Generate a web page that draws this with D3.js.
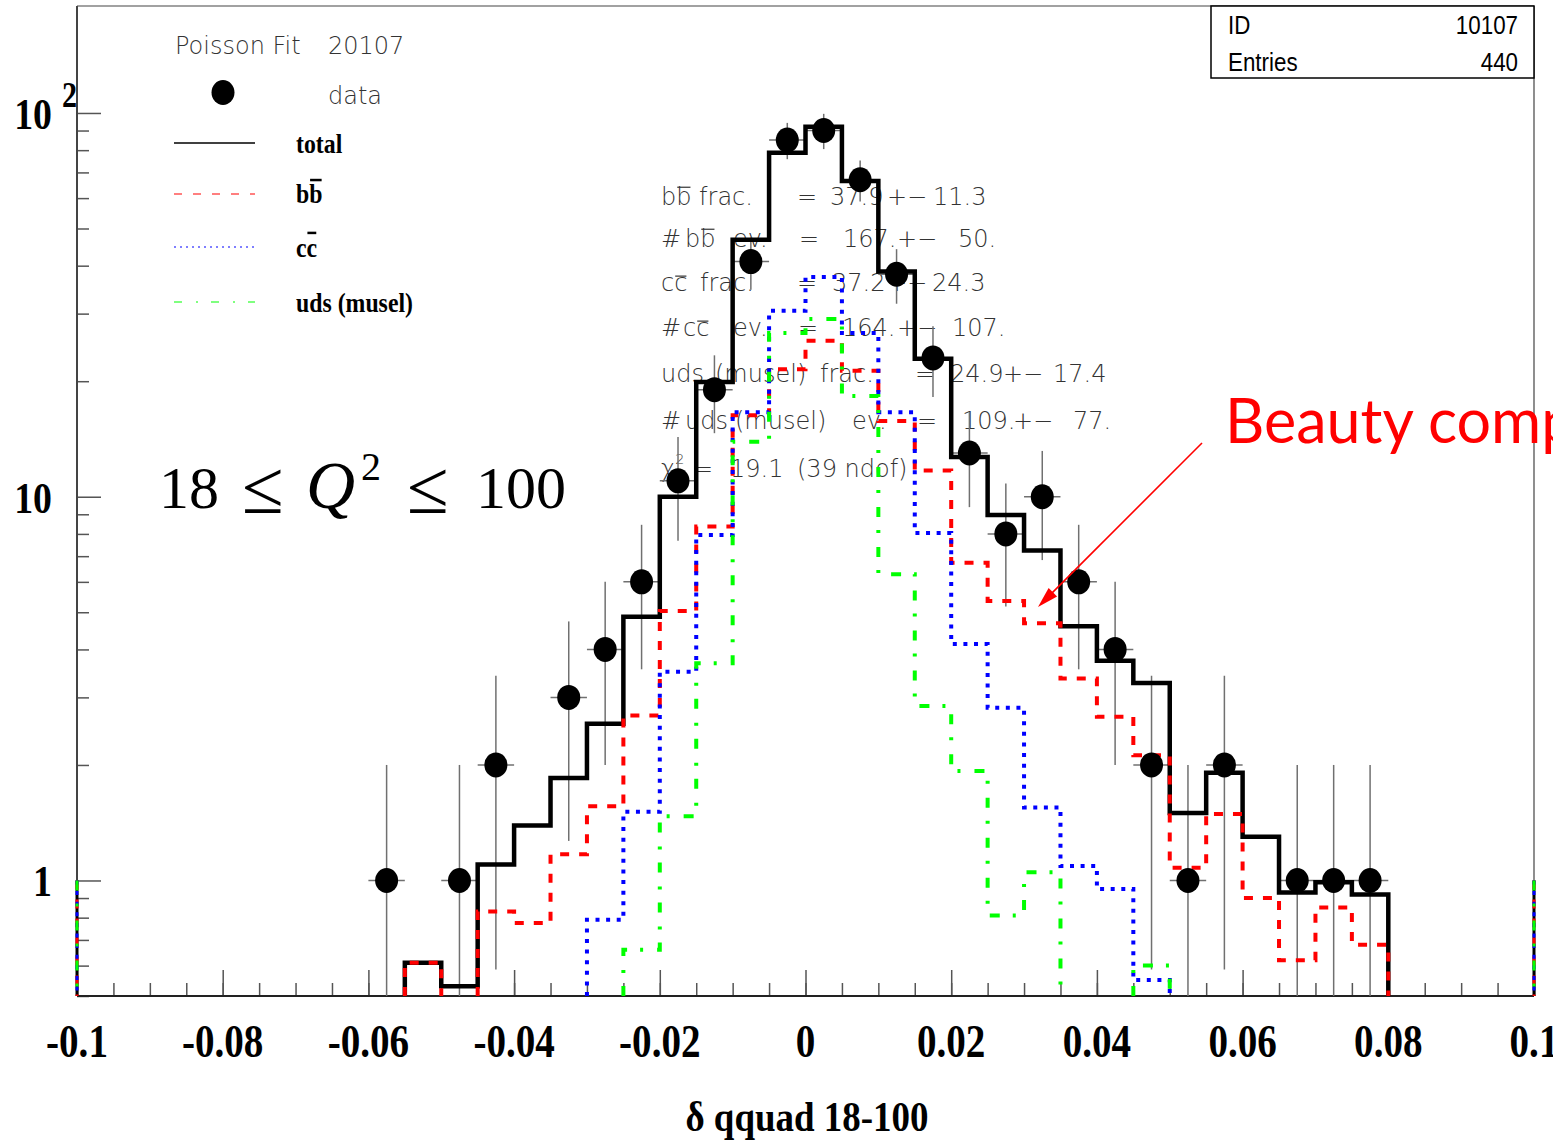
<!DOCTYPE html>
<html>
<head>
<meta charset="utf-8">
<script src="https://cdn.jsdelivr.net/npm/d3@7"></script>
<style>
  body { margin: 0; background: #fff; }
  svg { display: block; }
  text { white-space: pre; }
</style>
</head>
<body>
<svg id="chart" width="1553" height="1143"></svg>
<script>
// ---------------- data ----------------
// 40 bins of width 0.005 from -0.1 to 0.1 (index 0 = [-0.1, -0.095])
const binStart = -0.1;
const binWidth = 0.005;
const nBins = 40;

// observed entries per bin
const dataCounts = [0,0,0,0,0,0,0,0,1,0, 1,2,0,3,4,6,11,19,41,85, 90,67,38,23,13,8,10,6,4,2, 1,2,0,1,1,1,0,0,0,0];

// fitted contributions per bin (0 = below the axis minimum)
const totalFit = [0,0,0,0,0,0,0,0,0,0.61, 0.53,1.10,1.39,1.85,2.56,4.87,10.0,19.9,46.7,78.8, 92.1,66.5,38.6,22.9,12.7,8.96,7.24,4.60,3.74,3.27, 1.50,1.91,1.30,0.93,0.99,0.92,0,0,0,0];
const bbFit    = [0,0,0,0,0,0,0,0,0,0.61, 0,0.83,0.775,1.17,1.56,2.69,5.04,8.36,16.3,21.5, 25.5,21.3,15.75,11.7,6.73,5.35,4.68,3.36,2.67,2.12, 1.08,1.49,0.90,0.62,0.85,0.68,0,0,0,0];
const ccFit    = [0,0,0,0,0,0,0,0,0,0, 0,0,0,0,0.79,1.51,3.5,7.95,16.6,30.5, 37.4,26.7,16.6,8.04,4.13,2.82,1.55,1.09,0.95,0.55, 0,0,0,0,0,0,0,0,0,0];
const udsFit   = [0,0,0,0,0,0,0,0,0,0, 0,0,0,0,0,0.66,1.47,3.68,13.9,26.7, 29.05,18.3,6.28,2.85,1.93,0.81,1.05,0,0,0.60, 0,0,0,0,0,0,0,0,0,0];
// level of the histogram end markers drawn at both range limits
const edgeLevel = 1;

const xTickValues = [-0.1,-0.08,-0.06,-0.04,-0.02,0,0.02,0.04,0.06,0.08,0.1];
const xTickLabels = ["-0.1","-0.08","-0.06","-0.04","-0.02","0","0.02","0.04","0.06","0.08","0.1"];
const yTickValues = [1, 10, 100];
const yTickLabels = ["1", "10", "10"];
const yTickExponents = ["", "", "2"];
const yMinorValues = [0.5,0.6,0.7,0.8,0.9,2,3,4,5,6,7,8,9,20,30,40,50,60,70,80,90];

const statsLabels = ["ID", "Entries"];
const statsValues = ["10107", "440"];

// fit summary, text segments per line; [x] marks an overbar, ^x a superscript
const fitLines = [
  { y: 205, segs: [[661,"b[b] frac."],[797,"="],[830,"37.9"],[887,"+\u2212"],[933,"11.3"]] },
  { y: 247, segs: [[661,"#"],[685,"b[b]"],[733,"ev."],[799,"="],[843,"167."],[897,"+\u2212"],[958,"50."]] },
  { y: 291, segs: [[661,"c[c]"],[700,"frac."],[797,"="],[832,"37.2"],[887,"+\u2212"],[932,"24.3"]] },
  { y: 336, segs: [[661,"#"],[683,"c[c]"],[733,"ev."],[798,"="],[842,"164."],[897,"+\u2212"],[952,"107."]] },
  { y: 382, segs: [[661,"uds"],[715,"(musel)"],[820,"frac."],[915,"="],[950,"24.9"],[1003,"+\u2212"],[1053,"17.4"]] },
  { y: 429, segs: [[661,"#"],[685,"uds"],[735,"(musel)"],[852,"ev."],[917,"="],[962,"109."],[1013,"+\u2212"],[1073,"77."]] },
  { y: 477, segs: [[661,"\u03C7^2"],[693,"="],[730,"19.1"],[797,"(39 ndof)"]] }
];

// ---------------- layout ----------------
const plot = { left: 77, right: 1534, top: 6, bottom: 996 };
const yMin = 0.5, yMax = 190;

const svg = d3.select("#chart");
svg.append("rect").attr("width", 1553).attr("height", 1143).attr("fill", "#fff");

const x = d3.scaleLinear().domain([-0.1, 0.1]).range([plot.left, plot.right]);
const y = d3.scaleLog().domain([yMin, yMax]).range([plot.bottom, plot.top]);
const yc = v => y(Math.max(v, yMin));
const lo = i => binStart + i * binWidth;

const thinFont = "'DejaVu Sans ExtraLight', 'DejaVu Sans', sans-serif";
const serifFont = "'Liberation Serif', 'Times New Roman', serif";

// text with optional overbars ([..]) and superscripts (^c)
function richText(parent, xPos, yPos, markup, o) {
  const g = parent.append("g")
    .attr("transform", `translate(${xPos},${yPos}) scale(${o.sx || 1},1)`);
  const t = g.append("text")
    .attr("x", 0).attr("y", 0)
    .style("font-family", o.family)
    .style("font-size", o.size + "px")
    .style("font-weight", o.weight || "normal")
    .attr("fill", o.fill || "#000")
    .attr("text-anchor", o.anchor || "start");
  const parts = [];
  let i = 0;
  while (i < markup.length) {
    const ch = markup[i];
    if (ch === "[") {
      const j = markup.indexOf("]", i);
      parts.push({ t: markup.slice(i + 1, j), bar: true });
      i = j + 1;
    } else if (ch === "^") {
      parts.push({ t: markup[i + 1], sup: true });
      i += 2;
    } else {
      let j = i;
      while (j < markup.length && markup[j] !== "[" && markup[j] !== "^") j++;
      parts.push({ t: markup.slice(i, j) });
      i = j;
    }
  }
  let idx = 0;
  const bars = [];
  let raised = false;
  parts.forEach(p => {
    const ts = t.append("tspan").text(p.t);
    if (p.sup) {
      ts.attr("dy", -o.size * 0.55).style("font-size", (o.size * 0.6) + "px");
      raised = true;
    } else if (raised) {
      ts.attr("dy", o.size * 0.55);
      raised = false;
    }
    if (p.bar) bars.push({ start: idx, len: p.t.length, ch: p.t[0] });
    idx += p.t.length;
  });
  const node = t.node();
  bars.forEach(b => {
    const x0 = node.getStartPositionOfChar(b.start).x;
    const x1 = node.getEndPositionOfChar(b.start + b.len - 1).x;
    const h = (b.ch === "b" ? o.barHighB : o.barHighC) * o.size;
    g.append("line")
      .attr("x1", x0 + 1).attr("x2", x1 - 1)
      .attr("y1", -h).attr("y2", -h)
      .attr("stroke", o.fill || "#000")
      .attr("stroke-width", o.barWidth || 1.5);
  });
  return g;
}

// ---------------- fit summary text ----------------
const fitG = svg.append("g");
fitLines.forEach(line => {
  line.segs.forEach(([sx, s]) => {
    richText(fitG, sx, line.y, s, {
      family: thinFont, size: 24, fill: "#333", weight: 200,
      barHighB: 0.74, barHighC: 0.62, barWidth: 1.2
    });
  });
});

// ---------------- Q^2 range label ----------------
const qG = svg.append("g").style("font-family", serifFont).attr("fill", "#000");
qG.append("text").attr("x", 159).attr("y", 508).style("font-size", "60px").text("18");
qG.append("text").attr("x", 242).attr("y", 513).style("font-size", "76px").text("\u2264");
qG.append("text").attr("x", 306).attr("y", 508).style("font-size", "68px").style("font-style", "italic").text("Q");
qG.append("text").attr("x", 361).attr("y", 480).style("font-size", "40px").text("2");
qG.append("text").attr("x", 407).attr("y", 513).style("font-size", "76px").text("\u2264");
qG.append("text").attr("x", 476).attr("y", 508).style("font-size", "60px").text("100");

// ---------------- axes ----------------
const axisColor = "#444";
const xMinor = d3.range(0, nBins + 1).map(i => +(binStart + i * binWidth).toFixed(3));

const xMinorAxis = d3.axisBottom(x).tickValues(xMinor).tickSize(-13).tickFormat("");
const xMajorAxis = d3.axisBottom(x).tickValues(xTickValues).tickSize(-26).tickFormat("");
[xMinorAxis, xMajorAxis].forEach(ax => {
  const g = svg.append("g").attr("transform", `translate(0,${plot.bottom})`).call(ax);
  g.select(".domain").remove();
  g.selectAll(".tick line").attr("stroke", "#555").attr("stroke-width", 1.5);
});

const yMinorAxis = d3.axisLeft(y).tickValues(yMinorValues).tickSize(-12).tickFormat("");
const yMajorAxis = d3.axisLeft(y).tickValues(yTickValues).tickSize(-24).tickFormat("");
[yMinorAxis, yMajorAxis].forEach(ax => {
  const g = svg.append("g").attr("transform", `translate(${plot.left},0)`).call(ax);
  g.select(".domain").remove();
  g.selectAll(".tick line").attr("stroke", "#555").attr("stroke-width", 1.5);
});

// frame
svg.append("line").attr("x1", plot.left).attr("x2", plot.right).attr("y1", plot.top).attr("y2", plot.top)
  .attr("stroke", axisColor).attr("stroke-width", 1.2);
svg.append("line").attr("x1", plot.right).attr("x2", plot.right).attr("y1", plot.top).attr("y2", plot.bottom)
  .attr("stroke", axisColor).attr("stroke-width", 1.2);
svg.append("line").attr("x1", plot.left).attr("x2", plot.left).attr("y1", plot.top).attr("y2", plot.bottom)
  .attr("stroke", axisColor).attr("stroke-width", 2);
svg.append("line").attr("x1", plot.left).attr("x2", plot.right).attr("y1", plot.bottom).attr("y2", plot.bottom)
  .attr("stroke", "#222").attr("stroke-width", 2);

// tick labels (condensed bold serif)
const labelG = svg.append("g").attr("fill", "#000");
xTickValues.forEach((v, i) => {
  labelG.append("text")
    .attr("transform", `translate(${x(v)},${plot.bottom + 61}) scale(0.85,1)`)
    .attr("text-anchor", "middle")
    .style("font-family", serifFont).style("font-weight", "bold").style("font-size", "46px")
    .text(xTickLabels[i]);
});
yTickValues.forEach((v, i) => {
  labelG.append("text")
    .attr("transform", `translate(52,${y(v) + 16}) scale(0.86,1)`)
    .attr("text-anchor", "end")
    .style("font-family", serifFont).style("font-weight", "bold").style("font-size", "44px")
    .text(yTickLabels[i]);
  if (yTickExponents[i]) {
    labelG.append("text")
      .attr("transform", `translate(62,${y(v) - 6}) scale(0.86,1)`)
      .style("font-family", serifFont).style("font-weight", "bold").style("font-size", "35px")
      .text(yTickExponents[i]);
  }
});

// axis title
labelG.append("text")
  .attr("transform", `translate(807,1131) scale(0.86,1)`)
  .attr("text-anchor", "middle")
  .style("font-family", serifFont).style("font-weight", "bold").style("font-size", "43px")
  .text("\u03B4 qquad 18-100");

// ---------------- error bars ----------------
const errG = svg.append("g").attr("stroke", "#707070").attr("stroke-width", 1.5);
dataCounts.forEach((n, i) => {
  if (n <= 0) return;
  const e = Math.sqrt(n);
  const cx = x(lo(i) + binWidth / 2);
  errG.append("line").attr("x1", cx).attr("x2", cx).attr("y1", yc(n - e)).attr("y2", y(n + e));
  errG.append("line").attr("x1", x(lo(i))).attr("x2", x(lo(i) + binWidth)).attr("y1", y(n)).attr("y2", y(n));
});

// ---------------- fitted histograms ----------------
const series = [
  { values: totalFit, color: "#000000", width: 4.5, dash: null },
  { values: bbFit,    color: "#ff0000", width: 4,   dash: "9,10" },
  { values: ccFit,    color: "#0000ff", width: 4,   dash: "4,6.6" },
  { values: udsFit,   color: "#00ff00", width: 4,   dash: "10,13,3,14" }
];

// step outline; runs below the axis minimum are left out
function stepPath(vals) {
  const p = d3.path();
  let open = false;
  vals.forEach((v, i) => {
    if (v > yMin) {
      if (!open) { p.moveTo(x(lo(i)), y(yMin)); open = true; }
      p.lineTo(x(lo(i)), y(v));
      p.lineTo(x(lo(i) + binWidth), y(v));
    } else if (open) {
      p.lineTo(x(lo(i)), y(yMin));
      open = false;
    }
  });
  if (open) p.lineTo(x(lo(vals.length)), y(yMin));
  return p.toString();
}

const histG = svg.append("g").attr("fill", "none");
series.forEach(s => {
  const path = histG.append("path")
    .attr("d", stepPath(s.values))
    .attr("stroke", s.color)
    .attr("stroke-width", s.width)
    .attr("stroke-linejoin", "miter")
    .attr("stroke-linecap", "butt");
  if (s.dash) path.attr("stroke-dasharray", s.dash);
  // end markers at the range limits
  [-0.1, 0.1].forEach(edge => {
    const l = histG.append("line")
      .attr("x1", x(edge)).attr("x2", x(edge))
      .attr("y1", y(edgeLevel)).attr("y2", y(yMin))
      .attr("stroke", s.color).attr("stroke-width", 3);
    if (s.dash) l.attr("stroke-dasharray", s.dash);
  });
});

// ---------------- data points ----------------
const ptG = svg.append("g").attr("fill", "#000");
dataCounts.forEach((n, i) => {
  if (n <= 0) return;
  ptG.append("ellipse")
    .attr("cx", x(lo(i) + binWidth / 2)).attr("cy", y(n))
    .attr("rx", 11.5).attr("ry", 12.5);
});

// ---------------- legend ----------------
const legG = svg.append("g");
richText(legG, 175, 54, "Poisson Fit", { family: thinFont, size: 24, fill: "#333", weight: 200 });
richText(legG, 328, 54, "20107", { family: thinFont, size: 24, fill: "#333", weight: 200 });
legG.append("ellipse").attr("cx", 223).attr("cy", 92.5).attr("rx", 11.5).attr("ry", 12.5).attr("fill", "#000");
richText(legG, 328, 104, "data", { family: thinFont, size: 24, fill: "#333", weight: 200 });

const legendItems = [
  { label: "total",       y: 143, color: "#000",    dash: null,         width: 1.6, textY: 153 },
  { label: "b[b]",        y: 194, color: "#ff0000", dash: "8,11",       width: 1.2, textY: 203 },
  { label: "c[c]",        y: 247, color: "#0000ff", dash: "2,4",        width: 1.2, textY: 257 },
  { label: "uds (musel)", y: 302, color: "#00ff00", dash: "8,14,2,13",  width: 1.2, textY: 312 }
];
legendItems.forEach(it => {
  const l = legG.append("line").attr("x1", 174).attr("x2", 255).attr("y1", it.y).attr("y2", it.y)
    .attr("stroke", it.color).attr("stroke-width", it.width);
  if (it.dash) l.attr("stroke-dasharray", it.dash);
  richText(legG, 296, it.textY, it.label, {
    family: serifFont, size: 28, weight: "bold", fill: "#000", sx: 0.85,
    barHighB: 0.82, barHighC: 0.86, barWidth: 2.5
  });
});

// ---------------- statistics box ----------------
const stG = svg.append("g");
stG.append("rect").attr("x", 1211).attr("y", plot.top).attr("width", plot.right - 1211).attr("height", 72)
  .attr("fill", "#fff").attr("stroke", "#000").attr("stroke-width", 1.5);
statsLabels.forEach((lab, i) => {
  const by = 34 + i * 37;
  stG.append("text").attr("transform", `translate(1228,${by}) scale(0.86,1)`)
    .style("font-family", "'Liberation Sans', Arial, sans-serif").style("font-size", "26px").text(lab);
  stG.append("text").attr("transform", `translate(1518,${by}) scale(0.86,1)`).attr("text-anchor", "end")
    .style("font-family", "'Liberation Sans', Arial, sans-serif").style("font-size", "26px").text(statsValues[i]);
});

// ---------------- annotation ----------------
const annG = svg.append("g");
annG.append("text").attr("x", 1225).attr("y", 443)
  .style("font-family", "Lato, 'Open Sans', sans-serif").style("font-size", "61px")
  .attr("fill", "#ff0000").text("Beauty component");
const ax0 = 1202, ay0 = 443, ax1 = 1038, ay1 = 607;
const ang = Math.atan2(ay1 - ay0, ax1 - ax0);
const headLen = 21, headHalf = 6;
annG.append("line").attr("x1", ax0).attr("y1", ay0)
  .attr("x2", ax1 - Math.cos(ang) * headLen * 0.8).attr("y2", ay1 - Math.sin(ang) * headLen * 0.8)
  .attr("stroke", "#ff0000").attr("stroke-width", 1.6);
const bx = ax1 - Math.cos(ang) * headLen, by = ay1 - Math.sin(ang) * headLen;
annG.append("path")
  .attr("d", `M${ax1},${ay1} L${bx + Math.sin(ang) * headHalf},${by - Math.cos(ang) * headHalf} L${bx - Math.sin(ang) * headHalf},${by + Math.cos(ang) * headHalf} Z`)
  .attr("fill", "#ff0000");
</script>
</body>
</html>
